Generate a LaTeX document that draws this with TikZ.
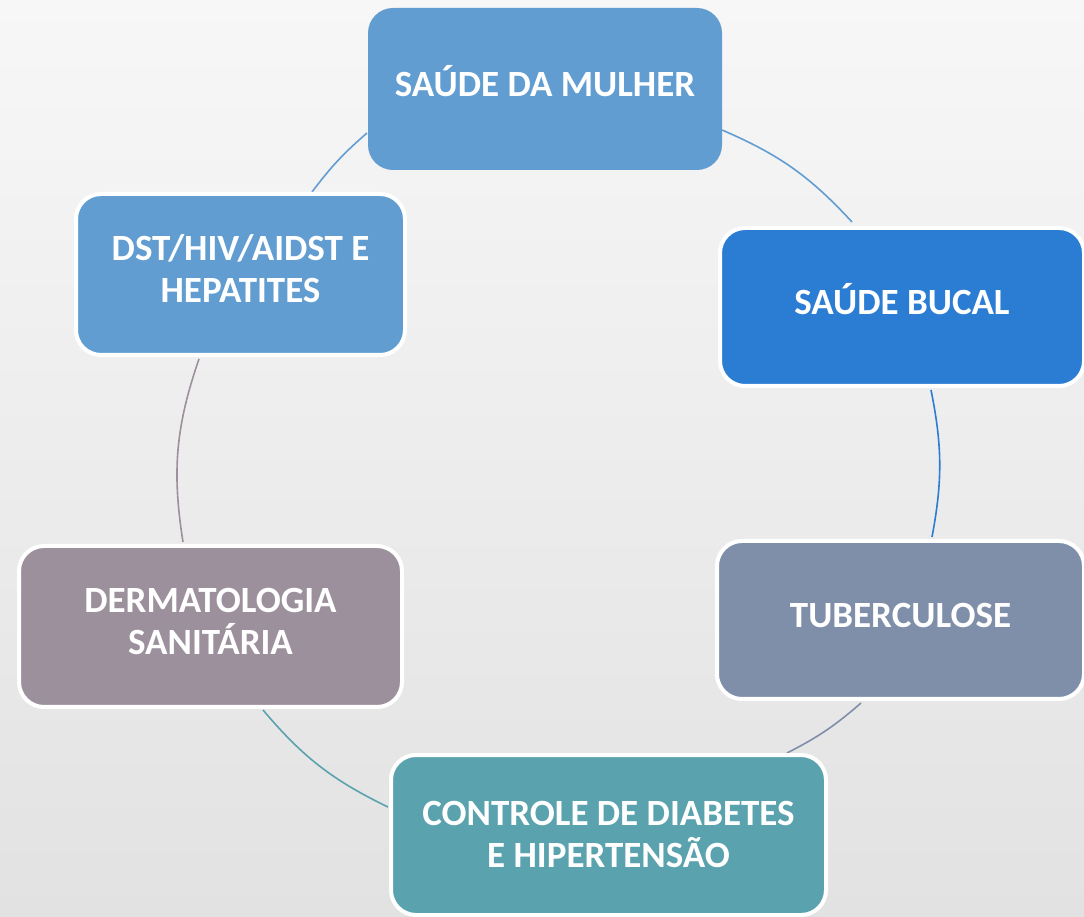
\documentclass[tikz,border=0pt]{standalone}
\usepackage{fontspec}
\setmainfont{Carlito}
\definecolor{bgtop}{HTML}{F7F7F7}
\definecolor{bgbot}{HTML}{E2E2E2}
\definecolor{cmulher}{HTML}{629DD1}
\definecolor{cbucal}{HTML}{2B7CD3}
\definecolor{ctub}{HTML}{7F8FA9}
\definecolor{ccontrole}{HTML}{5AA2AE}
\definecolor{cderm}{HTML}{9D909D}
\definecolor{cdst}{HTML}{629DD1}
\begin{document}
\begin{tikzpicture}[x=1pt,y=1pt,
  box/.style={draw=white, line width=4pt, rounded corners=25pt, text=white,
    font=\bfseries\fontsize{37}{42}\selectfont, align=center, inner sep=0pt,
    text depth=8pt},
  oneline/.style={text height=23pt},
  twoline/.style={text height=65pt},
  conn/.style={line width=1.6pt}]
\shade[top color=bgtop, bottom color=bgbot] (0,0) rectangle (1084,916);
\useasboundingbox (0,0) rectangle (1084,916);
% arc end points
\coordinate (a1s) at (722,786);
\coordinate (a1e) at (852,694);
\coordinate (a2s) at (931,526);
\coordinate (a2e) at (932,379);
\coordinate (a3s) at (861,213);
\coordinate (a3e) at (787,163);
\coordinate (a4s) at (388,109);
\coordinate (a4e) at (263,206);
\coordinate (a5s) at (183,374);
\coordinate (a5e) at (199,557);
\coordinate (a6s) at (312,724);
\coordinate (a6e) at (367,783);
\draw[conn, draw=cmulher] (a1s) to[bend left=12] (a1e);
\draw[conn, draw=cbucal] (a2s) to[bend left=11] (a2e);
\draw[conn, draw=ctub] (a3s) to[bend left=7] (a3e);
\draw[conn, draw=ccontrole] (a4s) to[bend left=12] (a4e);
\draw[conn, draw=cderm] (a5s) to[bend left=14] (a5e);
\draw[conn, draw=cdst] (a6s) to[bend left=6] (a6e);
% boxes
\node[box, oneline, draw=none, fill=cmulher, minimum width=354pt, minimum height=162pt] (mulher) at (545,827) {SAÚDE DA MULHER};
\node[box, oneline, fill=cbucal, minimum width=364pt, minimum height=158pt] (bucal) at (902,609) {SAÚDE BUCAL};
\node[box, oneline, fill=ctub, minimum width=367pt, minimum height=158pt] (tub) at (900.5,296) {TUBERCULOSE};
\node[box, twoline, text depth=1pt, fill=ccontrole, minimum width=435pt, minimum height=160pt] (controle) at (608.5,81) {CONTROLE DE DIABETES\\E HIPERTENSÃO};
\node[box, twoline, fill=cderm, minimum width=383pt, minimum height=161pt] (derm) at (210.5,289.5) {DERMATOLOGIA\\SANITÁRIA};
\node[box, twoline, fill=cdst, minimum width=329pt, minimum height=161pt] (dst) at (240.5,641.5) {DST/HIV/AIDST E\\HEPATITES};
\end{tikzpicture}
\end{document}
